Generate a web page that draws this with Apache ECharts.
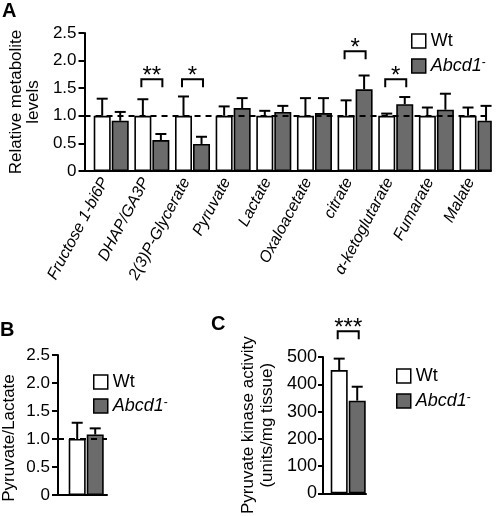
<!DOCTYPE html>
<html>
<head>
<meta charset="utf-8">
<script src="https://cdn.jsdelivr.net/npm/echarts@6/dist/echarts.min.js"></script>
<style>
html,body{margin:0;padding:0;background:#fff;}
#chart{width:496px;height:516px;}
</style>
</head>
<body>
<div id="chart"></div>
<script>
// ---------- data ----------
const categories = ['Fructose 1-bi6P','DHAP/GA3P','2(3)P-Glycerate','Pyruvate','Lactate','Oxaloacetate','citrate','α-ketoglutarate','Fumarate','Malate'];
const wtMean  = [1.00,1.00,1.00,1.00,1.00,1.00,1.00,1.00,1.00,1.00];
const wtUpper = [1.31,1.30,1.35,1.17,1.09,1.32,1.28,1.04,1.15,1.15];
const koMean  = [0.91,0.56,0.49,1.14,1.07,1.05,1.48,1.21,1.11,0.91];
const koUpper = [1.07,0.67,0.62,1.32,1.18,1.32,1.73,1.34,1.40,1.18];
const sigCatA   = [1, 2, 6, 7];
const sigLevelA = [1.66, 1.66, 2.17, 1.66];
const sigLabelA = ['**', '*', '*', '*'];

const catB = ['Pyruvate/Lactate'];
const wtMeanB = [1.00], wtUpperB = [1.29];
const koMeanB = [1.08], koUpperB = [1.19];

const catC = ['Pyruvate kinase'];
const wtMeanC = [452], wtUpperC = [494];
const koMeanC = [340], koUpperC = [391];
const sigLevelC = [594];
const sigLabelC = ['***'];

const seriesNames = ['Wt', 'Abcd1-'];

// ---------- styles ----------
const FONT = 'Liberation Sans, Arial, Helvetica, sans-serif';
const GRAY = '#6b6b6b';
const BAR_W = 17;
const GAP_PCT = 0.06;
const CAP = 11;

// replicate echarts bar layout to know bar centres (spacer + white + gray)
function barCenters(dummyW){
  const ws = [dummyW, BAR_W, BAR_W];
  let sum = 0; ws.forEach(w => sum += w*(1+GAP_PCT)); sum -= ws[2]*GAP_PCT;
  let off = -sum/2; const centers = [];
  ws.forEach(w => { centers.push(off + w/2); off += w*(1+GAP_PCT); });
  return [centers[1], centers[2]];
}
const offA = barCenters(12);
const offBC = barCenters(7);

function axisCommon(){
  return {
    axisLine:{show:true,lineStyle:{color:'#000',width:2}},
    axisTick:{show:true,length:6,lineStyle:{color:'#000',width:2}},
    axisLabel:{color:'#000',fontFamily:FONT,fontSize:16},
    splitLine:{show:false}
  };
}

function errSeries(name, gi, means, uppers, off, withDash){
  const s = {
    type:'custom', name: name, xAxisIndex:gi, yAxisIndex:gi, z:5, silent:true, clip:false,
    data: means.map((m,i)=>[i, m, uppers[i]]),
    encode:{x:0, y:[1,2]},
    renderItem(params, api){
      const b = api.coord([api.value(0), api.value(1)]);
      const t = api.coord([api.value(0), api.value(2)]);
      const x = b[0] + off;
      return {type:'group', children:[
        {type:'line', shape:{x1:x,y1:b[1],x2:x,y2:t[1]}, style:{stroke:'#000',lineWidth:2}},
        {type:'line', shape:{x1:x-CAP/2,y1:t[1],x2:x+CAP/2,y2:t[1]}, style:{stroke:'#000',lineWidth:2}}
      ]};
    }
  };
  if (withDash){
    s.markLine = {silent:true, symbol:['none','none'], label:{show:false},
      lineStyle:{color:'#000', width:2, type:[6,5]}, data:[{yAxis:1}]};
  }
  return s;
}

function sigSeries(gi, cats, levels, labels, off){
  return {
    type:'custom', xAxisIndex:gi, yAxisIndex:gi, z:6, silent:true, clip:false,
    data: cats.map((c,i)=>[c, levels[i]]),
    encode:{x:0,y:1},
    renderItem(params, api){
      const p = api.coord([api.value(0), api.value(1)]);
      const x1 = p[0] + off[0] - 1.5, x2 = p[0] + off[1] + 1.5, y = p[1];
      return {type:'group', children:[
        {type:'polyline', shape:{points:[[x1,y+8],[x1,y],[x2,y],[x2,y+8]]}, style:{stroke:'#000',lineWidth:2,fill:null}},
        {type:'text', style:{text:labels[params.dataIndex], x:(x1+x2)/2, y:y-2.5, align:'center', verticalAlign:'middle',
          font:'24px ' + FONT, fill:'#000'}}
      ]};
    }
  };
}

function barSet(gi, wt, ko, dummyW){
  return [
    {type:'bar', name:'_pad', xAxisIndex:gi, yAxisIndex:gi, barWidth:dummyW, barGap:(GAP_PCT*100)+'%',
     data: wt.map(()=>0), itemStyle:{opacity:0}, silent:true},
    {type:'bar', name:seriesNames[0], xAxisIndex:gi, yAxisIndex:gi, barWidth:BAR_W, barGap:(GAP_PCT*100)+'%',
     data: wt, itemStyle:{color:'#fff', borderColor:'#000', borderWidth:1.6}, silent:true},
    {type:'bar', name:seriesNames[1], xAxisIndex:gi, yAxisIndex:gi, barWidth:BAR_W, barGap:(GAP_PCT*100)+'%',
     data: ko, itemStyle:{color:GRAY, borderColor:'#000', borderWidth:1.6}, silent:true}
  ];
}

function legendAt(left, top, gap){
  return {
    left:left, top:top, orient:'vertical', itemWidth:14, itemHeight:14, itemGap:gap, padding:0,
    selectedMode:false, icon:'rect',
    data:[
      {name:seriesNames[0], itemStyle:{color:'#fff',borderColor:'#000',borderWidth:1.5}},
      {name:seriesNames[1], itemStyle:{color:GRAY,borderColor:'#000',borderWidth:1.5}}
    ],
    formatter: n => n === 'Wt' ? '{n|Wt}' : '{i|Abcd1}{s|-}',
    textStyle:{color:'#000', fontFamily:FONT, fontSize:18,
      rich:{
        n:{fontSize:18, fontFamily:FONT, color:'#000', lineHeight:18},
        i:{fontSize:18, fontFamily:FONT, fontStyle:'italic', color:'#000', lineHeight:18},
        s:{fontSize:12, fontFamily:FONT, color:'#000', lineHeight:12, verticalAlign:'top'}
      }}
  };
}

const yLabelFmt = v => v === 0 ? '0' : v.toFixed(1);

const option = {
  animation:false,
  backgroundColor:'#fff',
  title:[
    {text:'A', left:2, top:1, padding:0, textStyle:{fontFamily:FONT,fontSize:20,fontWeight:'bold',color:'#000'}},
    {text:'B', left:0, top:320, padding:0, textStyle:{fontFamily:FONT,fontSize:20,fontWeight:'bold',color:'#000'}},
    {text:'C', left:211, top:314, padding:0, textStyle:{fontFamily:FONT,fontSize:20,fontWeight:'bold',color:'#000'}}
  ],
  legend:[ legendAt(411, 32, 7), legendAt(93, 373, 6), legendAt(396, 367, 7) ],
  grid:[
    {left:72, top:33, width:419, height:138},
    {left:57, top:355, width:50, height:140},
    {left:323, top:357, width:43, height:137}
  ],
  xAxis:[
    Object.assign(axisCommon(), {gridIndex:0, type:'category', data:categories,
      axisTick:{show:false},
      axisLabel:{color:'#000',fontFamily:FONT,fontSize:16,fontStyle:'italic',rotate:62,interval:0,margin:8}}),
    Object.assign(axisCommon(), {gridIndex:1, type:'category', data:catB, axisTick:{show:false}, axisLabel:{show:false}}),
    Object.assign(axisCommon(), {gridIndex:2, type:'category', data:catC, axisTick:{show:false}, axisLabel:{show:false}})
  ],
  yAxis:[
    Object.assign(axisCommon(), {gridIndex:0, type:'value', min:0, max:2.5, interval:0.5,
      axisLabel:{color:'#000',fontFamily:FONT,fontSize:17,formatter:yLabelFmt},
      name:'Relative metabolite\nlevels', nameLocation:'middle', nameGap:39, nameRotate:90,
      nameTextStyle:{color:'#000',fontFamily:FONT,fontSize:17,lineHeight:17}}),
    Object.assign(axisCommon(), {gridIndex:1, type:'value', min:0, max:2.5, interval:0.5,
      axisLabel:{color:'#000',fontFamily:FONT,fontSize:17,formatter:yLabelFmt},
      name:'Pyruvate/Lactate', nameLocation:'middle', nameGap:40, nameRotate:90,
      nameTextStyle:{color:'#000',fontFamily:FONT,fontSize:17,padding:[0,26,0,0]}}),
    Object.assign(axisCommon(), {gridIndex:2, type:'value', min:0, max:500, interval:100,
      axisTick:{show:true,length:5,lineStyle:{color:'#000',width:2}},
      axisLabel:{color:'#000',fontFamily:FONT,fontSize:18,margin:6},
      name:'Pyruvate kinase activity\n(units/mg tissue)', nameLocation:'middle', nameGap:46, nameRotate:90,
      nameTextStyle:{color:'#000',fontFamily:FONT,fontSize:17,lineHeight:19}})
  ],
  series:[
    ...barSet(0, wtMean, koMean, 12),
    errSeries(seriesNames[0], 0, wtMean, wtUpper, offA[0], true),
    errSeries(seriesNames[1], 0, koMean, koUpper, offA[1], false),
    sigSeries(0, sigCatA, sigLevelA, sigLabelA, offA),
    ...barSet(1, wtMeanB, koMeanB, 7),
    errSeries(seriesNames[0], 1, wtMeanB, wtUpperB, offBC[0], true),
    errSeries(seriesNames[1], 1, koMeanB, koUpperB, offBC[1], false),
    ...barSet(2, wtMeanC, koMeanC, 7),
    errSeries(seriesNames[0], 2, wtMeanC, wtUpperC, offBC[0], false),
    errSeries(seriesNames[1], 2, koMeanC, koUpperC, offBC[1], false),
    sigSeries(2, [0], sigLevelC, sigLabelC, offBC)
  ]
};

const chart = echarts.init(document.getElementById('chart'), null, {renderer:'canvas'});
chart.setOption(option);
</script>
</body>
</html>
